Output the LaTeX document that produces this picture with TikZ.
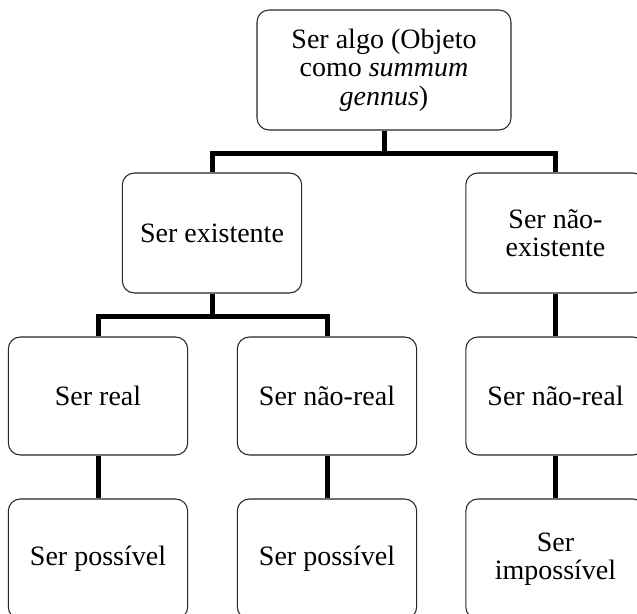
\documentclass[tikz,border=0pt]{standalone}
\usepackage{fontspec}
\setmainfont{Liberation Serif}
\begin{document}
\begin{tikzpicture}[x=0.75pt,y=-0.75pt,
  box/.style={draw=black!85, line width=0.8pt, rounded corners=9pt, fill=white,
    align=center, font=\fontsize{21}{21.3}\selectfont, inner sep=0pt,
    minimum width=134.5pt, minimum height=90pt},
  conn/.style={line width=3.75pt, black}]
\useasboundingbox (0,0) rectangle (637,614);
\clip (0,0) rectangle (637,614);
\node[box, minimum width=190.5pt] (top) at (384,70) {Ser algo (Objeto\\como \textit{summum}\\\textit{gennus})};
\node[box] (ex) at (212,233) {Ser existente};
\node[box] (nex) at (555.5,233) {Ser não-\\existente};
\node[box, minimum height=88.5pt] (r) at (98,396) {Ser real};
\node[box, minimum height=88.5pt] (nr1) at (327,396) {Ser não-real};
\node[box, minimum height=88.5pt] (nr2) at (555.5,396) {Ser não-real};
\node[box] (p1) at (98,559) {Ser possível};
\node[box] (p2) at (327,559) {Ser possível};
\node[box] (ip) at (555.5,559) {Ser\\impossível};
\draw[conn] (top.south) -- ++(0,23) -| (ex.north);
\draw[conn] (top.south) -- ++(0,23) -| (nex.north);
\draw[conn] (ex.south) -- ++(0,23) -| (r.north);
\draw[conn] (ex.south) -- ++(0,23) -| (nr1.north);
\draw[conn] (nex.south) -- (nr2.north);
\draw[conn] (r.south) -- (p1.north);
\draw[conn] (nr1.south) -- (p2.north);
\draw[conn] (nr2.south) -- (ip.north);
\end{tikzpicture}
\end{document}
